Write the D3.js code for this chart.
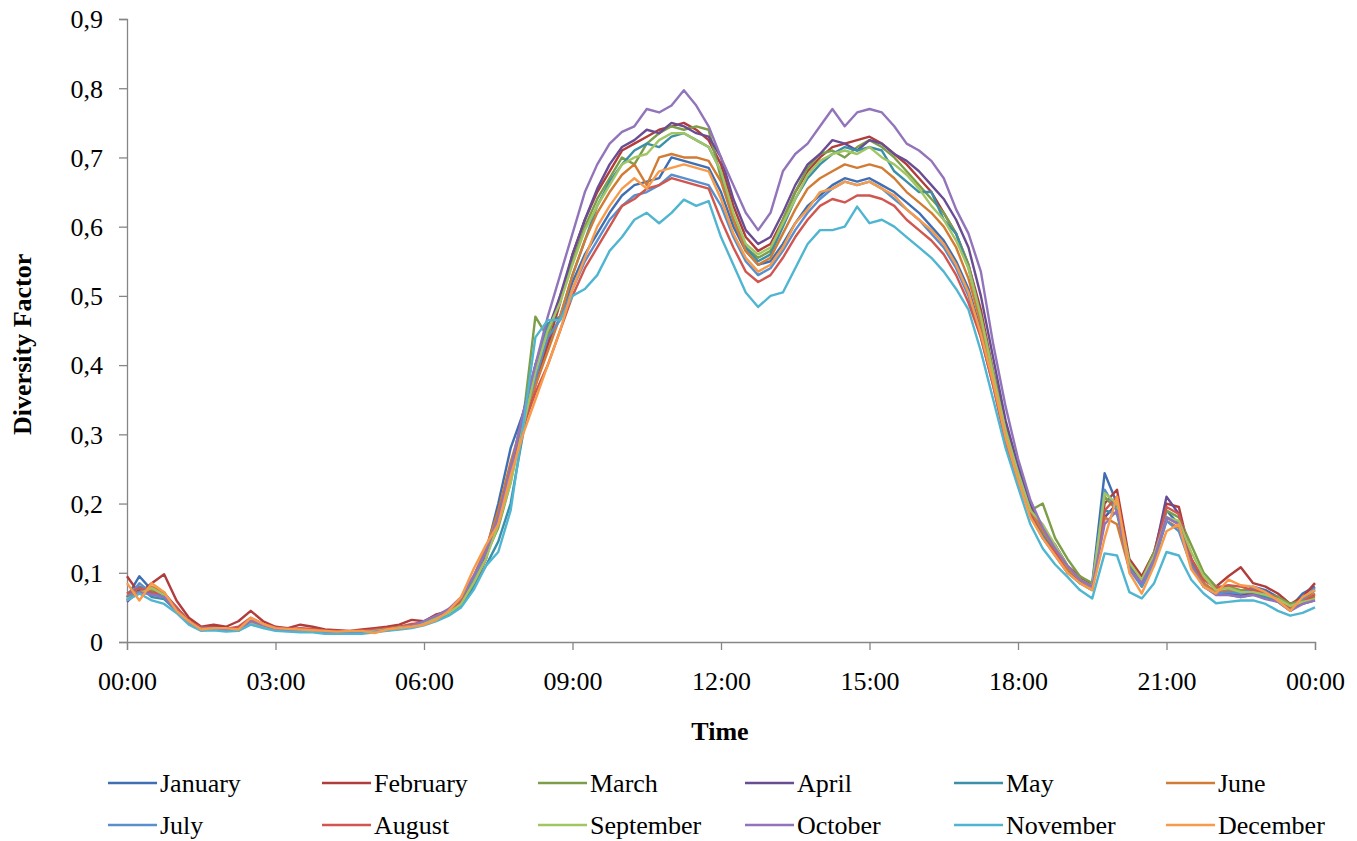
<!DOCTYPE html>
<html>
<head>
<meta charset="utf-8">
<script src="https://cdn.jsdelivr.net/npm/d3@7"></script>
<style>
  body { margin: 0; background: #fff; }
  text { font-family: "Liberation Serif", "Times New Roman", serif; fill: #000; }
</style>
</head>
<body>
<div id="container"></div>
<script>
/* DATA : diversity factor every 15 minutes, 00:00 -> 24:00 (97 values) */
const months = ["January", "February", "March", "April", "May", "June",
  "July", "August", "September", "October", "November", "December"];
const monthColors = ["#3f6fb3", "#b03c3b", "#7c9e48", "#6a4c93", "#3a8fa9", "#d27b34",
  "#5a8fcd", "#d0564f", "#a2c563", "#9274ba", "#4fb5d0", "#f79a4a"];
const timeTicks = ["00:00", "03:00", "06:00", "09:00", "12:00", "15:00", "18:00", "21:00", "00:00"];
const yTicks = [0, 0.1, 0.2, 0.3, 0.4, 0.5, 0.6, 0.7, 0.8, 0.9];

const january = [
  0.065,0.095,0.075,0.070, 0.050,0.030,0.020,0.022, 0.020,0.018,0.030,0.025,
  0.020,0.018,0.018,0.017, 0.015,0.015,0.014,0.015, 0.016,0.018,0.020,0.022,
  0.028,0.035,0.042,0.060, 0.090,0.130,0.200,0.280, 0.330,0.380,0.430,0.470,
  0.520,0.560,0.590,0.620, 0.645,0.660,0.665,0.670, 0.700,0.695,0.690,0.685,
  0.650,0.600,0.565,0.545, 0.550,0.575,0.605,0.630, 0.645,0.660,0.670,0.665,
  0.670,0.660,0.650,0.635, 0.620,0.600,0.580,0.550, 0.510,0.450,0.380,0.300,
  0.240,0.190,0.160,0.140, 0.110,0.090,0.085,0.244, 0.200,0.110,0.085,0.120,
  0.190,0.170,0.110,0.085, 0.070,0.075,0.070,0.080, 0.075,0.065,0.050,0.070,
  0.080];
const february = [
  0.095,0.070,0.085,0.098, 0.060,0.035,0.022,0.025, 0.022,0.030,0.045,0.030,
  0.022,0.020,0.025,0.022, 0.018,0.017,0.016,0.018, 0.020,0.022,0.025,0.032,
  0.030,0.040,0.045,0.055, 0.080,0.120,0.190,0.250, 0.310,0.370,0.430,0.490,
  0.560,0.610,0.650,0.680, 0.710,0.720,0.730,0.740, 0.745,0.750,0.740,0.725,
  0.690,0.630,0.585,0.565, 0.575,0.610,0.650,0.680, 0.700,0.715,0.720,0.725,
  0.730,0.720,0.705,0.690, 0.670,0.650,0.620,0.590, 0.545,0.480,0.390,0.310,
  0.250,0.195,0.160,0.140, 0.110,0.095,0.080,0.200, 0.220,0.120,0.095,0.130,
  0.200,0.195,0.120,0.090, 0.080,0.095,0.108,0.085, 0.080,0.070,0.055,0.065,
  0.085];
const march = [
  0.060,0.080,0.075,0.072, 0.045,0.028,0.020,0.020, 0.018,0.020,0.032,0.025,
  0.020,0.018,0.017,0.016, 0.015,0.014,0.014,0.015, 0.016,0.018,0.020,0.022,
  0.026,0.032,0.040,0.055, 0.085,0.125,0.165,0.230, 0.320,0.470,0.440,0.500,
  0.550,0.600,0.640,0.670, 0.700,0.690,0.720,0.735, 0.745,0.740,0.745,0.740,
  0.670,0.610,0.570,0.555, 0.565,0.610,0.650,0.685, 0.705,0.710,0.700,0.715,
  0.725,0.715,0.700,0.680, 0.660,0.640,0.620,0.590, 0.545,0.470,0.390,0.310,
  0.250,0.190,0.200,0.150, 0.120,0.095,0.085,0.210, 0.190,0.110,0.090,0.130,
  0.190,0.180,0.140,0.100, 0.080,0.080,0.075,0.075, 0.070,0.065,0.055,0.060,
  0.065];
const april = [
  0.058,0.075,0.070,0.068, 0.048,0.030,0.020,0.021, 0.019,0.018,0.030,0.024,
  0.019,0.017,0.018,0.017, 0.015,0.015,0.014,0.015, 0.017,0.019,0.021,0.024,
  0.030,0.038,0.045,0.060, 0.085,0.125,0.180,0.250, 0.330,0.400,0.450,0.500,
  0.560,0.610,0.655,0.690, 0.715,0.725,0.740,0.735, 0.750,0.745,0.735,0.730,
  0.700,0.640,0.595,0.575, 0.585,0.620,0.660,0.690, 0.705,0.725,0.720,0.710,
  0.725,0.720,0.705,0.695, 0.680,0.660,0.640,0.610, 0.570,0.500,0.410,0.320,
  0.255,0.200,0.165,0.135, 0.105,0.090,0.080,0.180, 0.200,0.110,0.085,0.125,
  0.210,0.185,0.120,0.085, 0.072,0.070,0.068,0.070, 0.068,0.060,0.048,0.055,
  0.060];
const may = [
  0.070,0.080,0.065,0.062, 0.045,0.028,0.018,0.020, 0.017,0.016,0.030,0.022,
  0.018,0.016,0.016,0.015, 0.014,0.013,0.013,0.014, 0.015,0.017,0.019,0.021,
  0.026,0.033,0.040,0.052, 0.080,0.110,0.145,0.200, 0.300,0.400,0.460,0.470,
  0.530,0.580,0.630,0.665, 0.690,0.710,0.720,0.715, 0.730,0.735,0.725,0.715,
  0.680,0.610,0.570,0.550, 0.560,0.600,0.640,0.670, 0.690,0.705,0.715,0.710,
  0.715,0.710,0.680,0.665, 0.650,0.650,0.610,0.590, 0.540,0.470,0.380,0.300,
  0.240,0.185,0.155,0.130, 0.105,0.085,0.075,0.190, 0.185,0.110,0.080,0.115,
  0.180,0.170,0.115,0.080, 0.070,0.068,0.065,0.068, 0.065,0.058,0.045,0.060,
  0.075];
const june = [
  0.068,0.072,0.080,0.070, 0.048,0.030,0.020,0.020, 0.018,0.020,0.032,0.024,
  0.020,0.018,0.018,0.017, 0.016,0.015,0.015,0.016, 0.017,0.019,0.022,0.024,
  0.028,0.035,0.045,0.062, 0.095,0.135,0.190,0.260, 0.320,0.370,0.420,0.470,
  0.530,0.580,0.620,0.650, 0.675,0.690,0.660,0.700, 0.705,0.700,0.700,0.695,
  0.665,0.610,0.565,0.545, 0.555,0.590,0.625,0.655, 0.670,0.680,0.690,0.685,
  0.690,0.685,0.670,0.650, 0.635,0.620,0.600,0.570, 0.525,0.460,0.385,0.305,
  0.240,0.190,0.160,0.135, 0.105,0.090,0.080,0.180, 0.170,0.105,0.085,0.120,
  0.175,0.165,0.110,0.085, 0.072,0.075,0.072,0.075, 0.070,0.062,0.050,0.060,
  0.070];
const july = [
  0.062,0.085,0.070,0.065, 0.048,0.028,0.019,0.020, 0.018,0.017,0.028,0.022,
  0.018,0.017,0.016,0.016, 0.014,0.014,0.013,0.014, 0.015,0.017,0.019,0.022,
  0.027,0.034,0.042,0.058, 0.090,0.130,0.180,0.250, 0.320,0.380,0.440,0.465,
  0.510,0.550,0.580,0.610, 0.630,0.645,0.650,0.660, 0.675,0.670,0.665,0.660,
  0.630,0.585,0.550,0.530, 0.540,0.565,0.595,0.620, 0.640,0.655,0.665,0.660,
  0.665,0.655,0.640,0.625, 0.610,0.590,0.570,0.540, 0.500,0.440,0.370,0.290,
  0.230,0.185,0.150,0.125, 0.100,0.085,0.080,0.220, 0.190,0.105,0.080,0.115,
  0.175,0.160,0.110,0.080, 0.070,0.072,0.070,0.078, 0.070,0.062,0.048,0.062,
  0.078];
const august = [
  0.070,0.078,0.072,0.070, 0.050,0.030,0.021,0.021, 0.019,0.022,0.035,0.026,
  0.021,0.019,0.020,0.019, 0.016,0.016,0.015,0.016, 0.018,0.020,0.022,0.026,
  0.028,0.036,0.044,0.058, 0.085,0.120,0.180,0.250, 0.310,0.360,0.400,0.450,
  0.500,0.540,0.570,0.600, 0.630,0.640,0.655,0.660, 0.670,0.665,0.660,0.655,
  0.610,0.570,0.535,0.520, 0.530,0.555,0.585,0.610, 0.630,0.640,0.635,0.645,
  0.645,0.640,0.630,0.610, 0.595,0.580,0.560,0.530, 0.490,0.440,0.370,0.290,
  0.235,0.185,0.150,0.130, 0.100,0.088,0.080,0.190, 0.210,0.115,0.090,0.125,
  0.195,0.185,0.120,0.090, 0.078,0.082,0.080,0.075, 0.072,0.062,0.050,0.058,
  0.068];
const september = [
  0.062,0.070,0.078,0.068, 0.045,0.026,0.019,0.020, 0.018,0.018,0.028,0.023,
  0.019,0.017,0.017,0.016, 0.014,0.014,0.014,0.014, 0.016,0.018,0.021,0.023,
  0.027,0.034,0.042,0.055, 0.085,0.120,0.170,0.230, 0.310,0.390,0.450,0.490,
  0.545,0.595,0.630,0.660, 0.690,0.700,0.705,0.725, 0.735,0.735,0.725,0.715,
  0.680,0.620,0.575,0.560, 0.570,0.605,0.640,0.675, 0.695,0.705,0.710,0.705,
  0.715,0.700,0.690,0.675, 0.655,0.630,0.610,0.580, 0.540,0.470,0.385,0.305,
  0.245,0.190,0.170,0.140, 0.110,0.090,0.080,0.215, 0.200,0.115,0.090,0.125,
  0.180,0.175,0.130,0.095, 0.075,0.078,0.072,0.072, 0.068,0.062,0.052,0.058,
  0.062];
const october = [
  0.060,0.072,0.068,0.065, 0.045,0.027,0.019,0.020, 0.018,0.017,0.030,0.024,
  0.019,0.017,0.016,0.016, 0.014,0.014,0.013,0.014, 0.015,0.017,0.020,0.023,
  0.030,0.038,0.048,0.065, 0.095,0.130,0.180,0.250, 0.330,0.400,0.470,0.530,
  0.590,0.650,0.690,0.720, 0.737,0.745,0.770,0.765, 0.775,0.797,0.775,0.745,
  0.700,0.660,0.620,0.595, 0.620,0.680,0.705,0.720, 0.745,0.770,0.745,0.765,
  0.770,0.765,0.745,0.720, 0.710,0.695,0.670,0.625, 0.590,0.535,0.430,0.340,
  0.265,0.205,0.165,0.135, 0.110,0.090,0.080,0.170, 0.190,0.105,0.085,0.120,
  0.180,0.170,0.110,0.080, 0.068,0.068,0.065,0.068, 0.062,0.058,0.045,0.055,
  0.060];
const november = [
  0.060,0.070,0.060,0.055, 0.042,0.025,0.016,0.017, 0.015,0.016,0.025,0.020,
  0.016,0.015,0.014,0.014, 0.012,0.012,0.012,0.012, 0.014,0.016,0.018,0.020,
  0.024,0.030,0.038,0.050, 0.075,0.110,0.130,0.190, 0.310,0.440,0.465,0.465,
  0.500,0.510,0.530,0.565, 0.585,0.610,0.620,0.605, 0.620,0.639,0.630,0.637,
  0.585,0.545,0.505,0.484, 0.500,0.505,0.540,0.575, 0.595,0.595,0.600,0.629,
  0.605,0.610,0.600,0.585, 0.570,0.555,0.535,0.510, 0.480,0.420,0.350,0.280,
  0.224,0.170,0.135,0.112, 0.094,0.075,0.063,0.128, 0.125,0.072,0.063,0.085,
  0.130,0.125,0.090,0.070, 0.056,0.058,0.060,0.060, 0.055,0.045,0.038,0.042,
  0.050];
const december = [
  0.085,0.060,0.085,0.072, 0.045,0.030,0.018,0.020, 0.020,0.018,0.035,0.026,
  0.020,0.019,0.018,0.017, 0.016,0.015,0.016,0.016, 0.013,0.018,0.020,0.022,
  0.025,0.032,0.045,0.065, 0.105,0.140,0.170,0.240, 0.300,0.350,0.400,0.450,
  0.510,0.555,0.600,0.630, 0.655,0.670,0.655,0.680, 0.685,0.690,0.685,0.680,
  0.640,0.590,0.555,0.535, 0.545,0.570,0.605,0.625, 0.650,0.655,0.665,0.660,
  0.665,0.655,0.645,0.625, 0.610,0.595,0.575,0.545, 0.505,0.445,0.375,0.295,
  0.235,0.180,0.150,0.125, 0.100,0.085,0.075,0.150, 0.210,0.100,0.070,0.110,
  0.160,0.170,0.105,0.080, 0.070,0.090,0.082,0.080, 0.072,0.060,0.045,0.065,
  0.075];

const seriesValues = [january, february, march, april, may, june,
  july, august, september, october, november, december];

/* LAYOUT */
const width = 1357, height = 841;
const margin = { top: 19, left: 127, right: 42, bottom: 199 };
const fontSize = 26;
const axisColor = "#868686";

const svg = d3.select("#container").append("svg")
  .attr("width", width)
  .attr("height", height);

const xScale = d3.scaleLinear()
  .domain([0, 24])
  .range([margin.left, width - margin.right]);

const yScale = d3.scaleLinear()
  .domain([0, 0.9])
  .range([height - margin.bottom, margin.top]);

const colorScale = d3.scaleOrdinal().domain(months).range(monthColors);

const series = months.map((m, k) => ({
  name: m,
  values: seriesValues[k].map((v, i) => ({ t: i * 0.25, v: v }))
}));

// y axis
const yAxis = d3.axisLeft(yScale)
  .tickValues(yTicks)
  .tickSize(8)
  .tickFormat(d => d3.format(".1~f")(d).replace(".", ","));

const yG = svg.append("g")
  .attr("transform", `translate(${margin.left},0)`)
  .call(yAxis);

// x axis
const xAxis = d3.axisBottom(xScale)
  .tickValues(d3.range(0, 25, 3))
  .tickSize(8)
  .tickFormat((d, i) => timeTicks[i]);

const xG = svg.append("g")
  .attr("transform", `translate(0,${height - margin.bottom})`)
  .call(xAxis);

[yG, xG].forEach(g => {
  g.select(".domain").attr("stroke", axisColor).attr("stroke-width", 1.3);
  g.selectAll(".tick line").attr("stroke", axisColor).attr("stroke-width", 1.3);
  g.selectAll(".tick text")
    .attr("fill", "#000")
    .style("font-family", '"Liberation Serif", "Times New Roman", serif')
    .style("font-size", fontSize + "px");
});
yG.selectAll(".tick text").attr("x", -24).attr("dy", "0.34em");
xG.selectAll(".tick text").attr("y", 30);

// axis titles
svg.append("text")
  .attr("x", xScale(12) - 1)
  .attr("y", 740)
  .attr("text-anchor", "middle")
  .style("font-size", fontSize + "px")
  .style("font-weight", "bold")
  .text("Time");

svg.append("text")
  .attr("transform", `translate(31,${yScale(0.43)}) rotate(-90)`)
  .attr("text-anchor", "middle")
  .style("font-size", fontSize + "px")
  .style("font-weight", "bold")
  .text("Diversity Factor");

// lines
const line = d3.line()
  .x(d => xScale(d.t))
  .y(d => yScale(d.v));

svg.append("g")
  .selectAll("path")
  .data(series)
  .join("path")
  .attr("d", d => line(d.values))
  .attr("fill", "none")
  .attr("stroke", d => colorScale(d.name))
  .attr("stroke-width", 2.4)
  .attr("stroke-linejoin", "round");

// legend: 2 rows x 6 columns
const legendCols = [108, 322, 538, 745, 954, 1166];
const legendRows = [783, 825];

const legend = svg.append("g")
  .selectAll("g")
  .data(series)
  .join("g")
  .attr("transform", (d, i) => `translate(${legendCols[i % 6]},${legendRows[Math.floor(i / 6)]})`);

legend.append("line")
  .attr("x1", 0)
  .attr("x2", 49)
  .attr("stroke", d => colorScale(d.name))
  .attr("stroke-width", 2.6);

legend.append("text")
  .attr("x", 52)
  .attr("dy", "0.34em")
  .style("font-size", fontSize + "px")
  .text(d => d.name);
</script>
</body>
</html>
